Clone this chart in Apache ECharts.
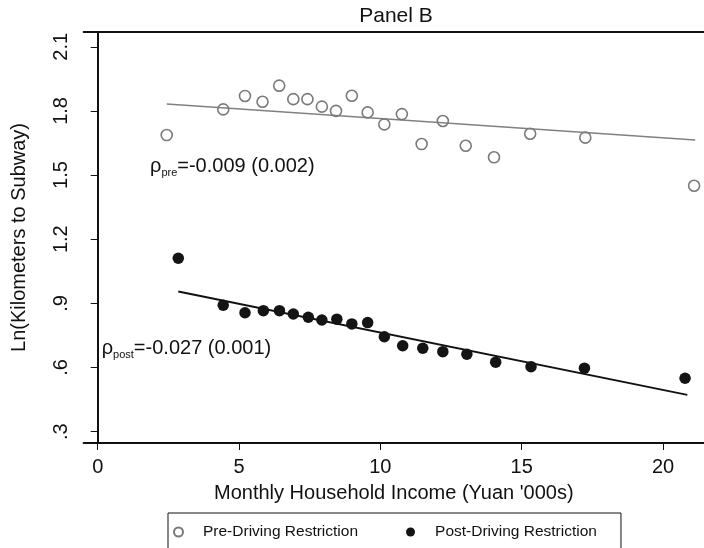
<!DOCTYPE html>
<html>
<head>
<meta charset="utf-8">
<script src="https://cdn.jsdelivr.net/npm/echarts@6/dist/echarts.min.js"></script>
<style>
  html, body { margin: 0; padding: 0; background: #fff; }
  #chart { width: 704px; height: 548px; }
</style>
</head>
<body>
<div id="chart"></div>
<script>
// Binned means of log distance to subway by monthly household income
const incomePre  = [2.44, 4.44, 5.21, 5.83, 6.42, 6.92, 7.42, 7.93, 8.43, 8.99, 9.55, 10.14, 10.76, 11.46, 12.21, 13.02, 14.02, 15.30, 17.25, 21.10];
const distPre    = [1.687, 1.807, 1.870, 1.843, 1.918, 1.855, 1.855, 1.820, 1.800, 1.871, 1.793, 1.737, 1.785, 1.645, 1.753, 1.637, 1.583, 1.693, 1.675, 1.450];
const incomePost = [2.85, 4.44, 5.21, 5.86, 6.43, 6.92, 7.45, 7.93, 8.46, 8.99, 9.55, 10.14, 10.79, 11.50, 12.21, 13.06, 14.08, 15.33, 17.22, 20.78];
const distPost   = [1.111, 0.891, 0.856, 0.866, 0.866, 0.850, 0.835, 0.822, 0.826, 0.804, 0.810, 0.744, 0.702, 0.690, 0.674, 0.662, 0.625, 0.604, 0.597, 0.550];

// Fitted regression lines (end points)
const fitPreX  = [2.44, 21.14];
const fitPreY  = [1.832, 1.664];
const fitPostX = [2.85, 20.86];
const fitPostY = [0.955, 0.472];

const xTicks = [0, 5, 10, 15, 20];
const yTicks = [0.3, 0.6, 0.9, 1.2, 1.5, 1.8, 2.1];

const seriesNames = ['Pre-Driving Restriction', 'Post-Driving Restriction'];

const FONT = "'Liberation Sans', Arial, Helvetica, sans-serif";
const zip = (xs, ys) => xs.map((x, i) => [x, ys[i]]);
const fmtY = v => {
  const s = v.toFixed(1);
  return s.startsWith('0') ? s.slice(1) : s;
};

const chart = echarts.init(document.getElementById('chart'), null, { renderer: 'canvas' });

const X_MIN = -0.5, X_MAX = 21.45;
const Y_MIN = 0.247, Y_MAX = 2.169;

chart.setOption({
  animation: false,
  backgroundColor: '#fff',
  textStyle: { fontFamily: FONT },
  grid: { left: 83.6, right: 0, top: 32, bottom: 105, containLabel: false },
  xAxis: [
    {
      type: 'value', min: X_MIN, max: X_MAX,
      name: "Monthly Household Income (Yuan '000s)",
      nameLocation: 'middle', nameGap: 40,
      nameTextStyle: { fontSize: 20, color: '#111', fontFamily: FONT },
      axisLine: { show: true, lineStyle: { color: '#111', width: 2 } },
      axisTick: { show: true, length: 7, customValues: xTicks, lineStyle: { color: '#111', width: 1 } },
      axisLabel: { customValues: xTicks, fontSize: 20, color: '#111', margin: 14, fontFamily: FONT },
      splitLine: { show: false }
    },
    {
      type: 'value', min: X_MIN, max: X_MAX, position: 'top',
      axisLine: { show: true, lineStyle: { color: '#111', width: 2 } },
      axisTick: { show: false }, axisLabel: { show: false }, splitLine: { show: false }
    }
  ],
  yAxis: {
    type: 'value', min: Y_MIN, max: Y_MAX,
    name: 'Ln(Kilometers to Subway)',
    nameLocation: 'middle', nameGap: 54,
    nameTextStyle: { fontSize: 20, color: '#111', fontFamily: FONT },
    axisLine: { show: true, lineStyle: { color: '#111', width: 2 } },
    axisTick: { show: true, length: 7, customValues: yTicks, lineStyle: { color: '#111', width: 1 } },
    axisLabel: { customValues: yTicks, rotate: 90, fontSize: 20, color: '#111', margin: 12, formatter: fmtY, fontFamily: FONT },
    splitLine: { show: false }
  },
  legend: {
    data: seriesNames,
    left: 168, top: 513,
    orient: 'horizontal',
    itemWidth: 9, itemHeight: 9, itemGap: 48,
    padding: [11, 24, 30, 5],
    borderColor: '#111', borderWidth: 1,
    textStyle: { fontSize: 15.5, color: '#111', fontFamily: FONT, padding: [0, 0, 0, 15] }
  },
  graphic: [
    {
      type: 'text', x: 396, y: 16,
      style: { text: 'Panel B', fill: '#111', font: '21px ' + FONT, align: 'center', verticalAlign: 'middle', textAlign: 'center', textVerticalAlign: 'middle' }
    },
    {
      type: 'text', x: 150, y: 166,
      style: {
        text: '{a|ρ}{b|pre}{a|=-0.009 (0.002)}',
        verticalAlign: 'middle', textVerticalAlign: 'middle',
        rich: {
          a: { fontSize: 20, fontFamily: FONT, fill: '#111', color: '#111' },
          b: { fontSize: 11, fontFamily: FONT, fill: '#111', color: '#111', padding: [14, 0, 0, 0] }
        }
      }
    },
    {
      type: 'text', x: 101.7, y: 348,
      style: {
        text: '{a|ρ}{b|post}{a|=-0.027 (0.001)}',
        verticalAlign: 'middle', textVerticalAlign: 'middle',
        rich: {
          a: { fontSize: 20, fontFamily: FONT, fill: '#111', color: '#111' },
          b: { fontSize: 11, fontFamily: FONT, fill: '#111', color: '#111', padding: [14, 0, 0, 0] }
        }
      }
    }
  ],
  series: [
    {
      name: seriesNames[0], type: 'scatter', xAxisIndex: 0,
      data: zip(incomePre, distPre),
      symbol: 'circle', symbolSize: 11, z: 4,
      itemStyle: { color: 'rgba(255,255,255,0)', borderColor: '#7a7a7a', borderWidth: 1.6, opacity: 1 }
    },
    {
      name: seriesNames[1], type: 'scatter', xAxisIndex: 0,
      data: zip(incomePost, distPost),
      symbol: 'circle', symbolSize: 11.5, z: 4,
      itemStyle: { color: '#141414', borderWidth: 0, opacity: 1 }
    },
    {
      name: 'Pre fit', type: 'line', xAxisIndex: 0,
      data: zip(fitPreX, fitPreY),
      showSymbol: false, symbol: 'none', z: 3,
      lineStyle: { color: '#808080', width: 1.6 }
    },
    {
      name: 'Post fit', type: 'line', xAxisIndex: 0,
      data: zip(fitPostX, fitPostY),
      showSymbol: false, symbol: 'none', z: 3,
      lineStyle: { color: '#111', width: 2 }
    }
  ]
});
</script>
</body>
</html>
